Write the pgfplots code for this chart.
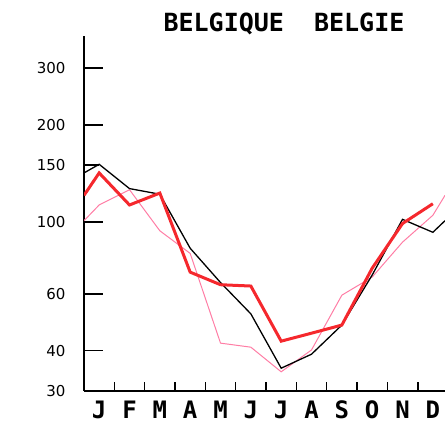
\documentclass[border=0pt]{standalone}
\usepackage{pgfplots}
\pgfplotsset{compat=1.18}
\usepackage{fontspec}
\setmainfont{DejaVu Sans}
\newfontfamily\plotter{DejaVu Sans Mono}
\definecolor{redline}{RGB}{245,40,45}
\definecolor{pinkline}{RGB}{255,125,165}

\begin{document}
\begin{tikzpicture}[x=1pt,y=1pt]
\useasboundingbox (0,0) rectangle (445,432);
\node[font=\plotter\bfseries\fontsize{25}{25}\selectfont] at (284,408) {BELGIQUE\ \ BELGIE};
\begin{axis}[
    at={(84pt,41pt)}, anchor=south west,
    scale only axis, width=361pt, height=355pt,
    xmin=0.5, xmax=12.4, ymode=log, ymin=30, ymax=377,
    axis lines=left, axis line style={-, line width=1.6pt},
    xtick={1,...,12}, xticklabels={J,F,M,A,M,J,J,A,S,O,N,D},
    minor xtick={1.5,2.5,...,11.5},
    every major x tick/.style={draw=none},
    ytick={30,40,60,100,200,300}, yticklabels={30,40,60,100,200,300},
    extra y ticks={150}, extra y tick labels={150},
    extra y tick style={major tick length=15pt},
    major tick length=19pt, minor tick length=9pt,
    tick align=inside,
    tick style={black, line width=1.6pt},
    xticklabel style={font=\plotter\bfseries\fontsize{24}{24}\selectfont, yshift=-6pt},
    yticklabel style={font=\fontsize{15}{15}\selectfont, xshift=-15pt},
    /pgf/number format/assume math mode=true,
]
\addplot[pinkline, line width=1pt] coordinates {
    (0.5,101) (1,113) (2,126) (3,94) (4,80) (5,42.2) (6,41) (7,34.4)
    (8,40.2) (9,59.4) (10,67.6) (11,86.7) (12,105) (12.4,121)};
\addplot[black, line width=1.3pt] coordinates {
    (0.5,142) (1,151) (2,127) (3,122) (4,83) (5,65) (6,52) (7,35.3)
    (8,39) (9,48) (10,68.6) (11,102) (12,93) (12.4,101)};
\addplot[redline, line width=3pt] coordinates {
    (0.5,121) (1,142) (2,113) (3,123) (4,70) (5,64) (6,63.4) (7,42.8)
    (8,45.3) (9,48) (10,72) (11,99) (12,114)};
\end{axis}
\end{tikzpicture}
\end{document}
